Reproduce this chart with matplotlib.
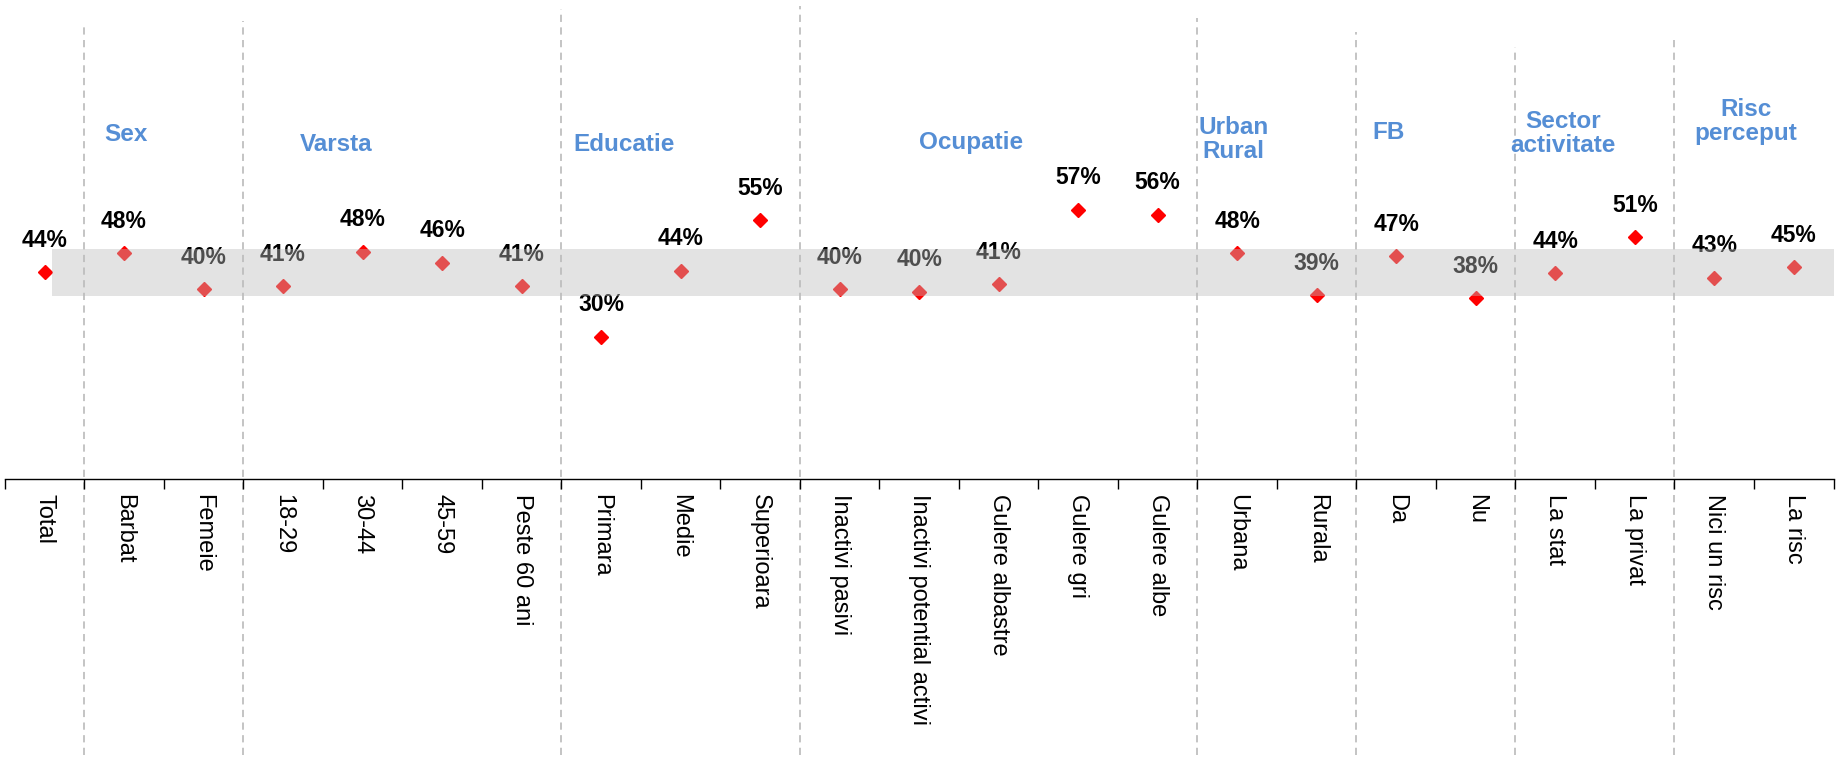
import matplotlib
matplotlib.use("Agg")
import matplotlib.pyplot as plt

categories = [
    "Total", "Barbat", "Femeie", "18-29", "30-44", "45-59", "Peste 60 ani",
    "Primara", "Medie", "Superioara", "Inactivi pasivi",
    "Inactivi potential activi", "Gulere albastre", "Gulere gri", "Gulere albe",
    "Urbana", "Rurala", "Da", "Nu", "La stat", "La privat",
    "Nici un risc", "La risc",
]
values = [
    44.0, 48.0, 40.4, 41.0, 48.3, 46.0, 41.0,
    30.3, 44.3, 55.0, 40.4,
    39.8, 41.4, 57.2, 56.2,
    48.0, 39.1, 47.4, 38.4, 43.8, 51.4,
    42.8, 45.0,
]

# group headers: text, centre position (category units), height
groups = ["Sex", "Varsta", "Educatie", "Ocupatie", "Urban\nRural", "FB",
          "Sector\nactivitate", "Risc\nperceput"]
group_x = [1.02, 3.67, 7.29, 11.65, 14.95, 16.91, 19.10, 21.40]
group_y = [73.1, 71.1, 71.1, 71.6, 72.1, 73.6, 73.4, 75.9]

# separators between groups (after category index) and their top ends
sep_after = [0, 2, 6, 9, 14, 16, 18, 20]
sep_top = [0.968, 0.973, 0.998, 1.005, 0.980, 0.950, 0.918, 0.935]

band_low, band_high = 38.8, 48.8

plt.rcParams["font.family"] = ["Liberation Sans", "DejaVu Sans"]

fig = plt.figure(figsize=(18.37, 7.57), dpi=100)
ax = fig.add_axes([0.0026, 0.367, 0.9955, 0.622])

n = len(categories)
xs = list(range(n))

ax.plot(xs, values, linestyle="none", marker="D", markersize=7.6,
        color="#FF0000", zorder=3)

for x, v in zip(xs, values):
    ax.annotate(f"{v:.0f}%", (x, v), xytext=(0, 23), textcoords="offset points",
                ha="center", va="center", fontsize=16.5, fontweight="bold",
                color="black", zorder=3)

# grey band drawn on top, semi-transparent
ax.fill_between([0.1, n - 0.5], band_low, band_high,
                color=(189 / 255, 189 / 255, 189 / 255), alpha=0.42,
                linewidth=0, zorder=5)

for s, top in zip(sep_after, sep_top):
    ax.axvline(s + 0.5, ymin=-0.585, ymax=top, color="#BFBFBF",
               linestyle=(0, (4, 3)), linewidth=1.3, clip_on=False, zorder=1)

for g, gx, gy in zip(groups, group_x, group_y):
    ax.text(gx, gy, g, ha="center", va="center", fontsize=17.5,
            fontweight="bold", color="#558ED5", linespacing=1.05)

ax.set_xlim(-0.5, n - 0.5)
ax.set_ylim(0, 100)

ax.set_xticks(xs)
ax.set_xticklabels(categories, rotation=270, fontsize=17, va="top", ha="center")
ax.tick_params(axis="x", which="major", length=0, pad=10.5)
ax.set_xticks([i - 0.5 for i in range(n + 1)], minor=True)
ax.tick_params(axis="x", which="minor", length=7, width=1, direction="out")
ax.set_yticks([])

for side in ["left", "top", "right"]:
    ax.spines[side].set_visible(False)
ax.spines["bottom"].set_linewidth(1.0)

fig.savefig("out.png", dpi=100)
